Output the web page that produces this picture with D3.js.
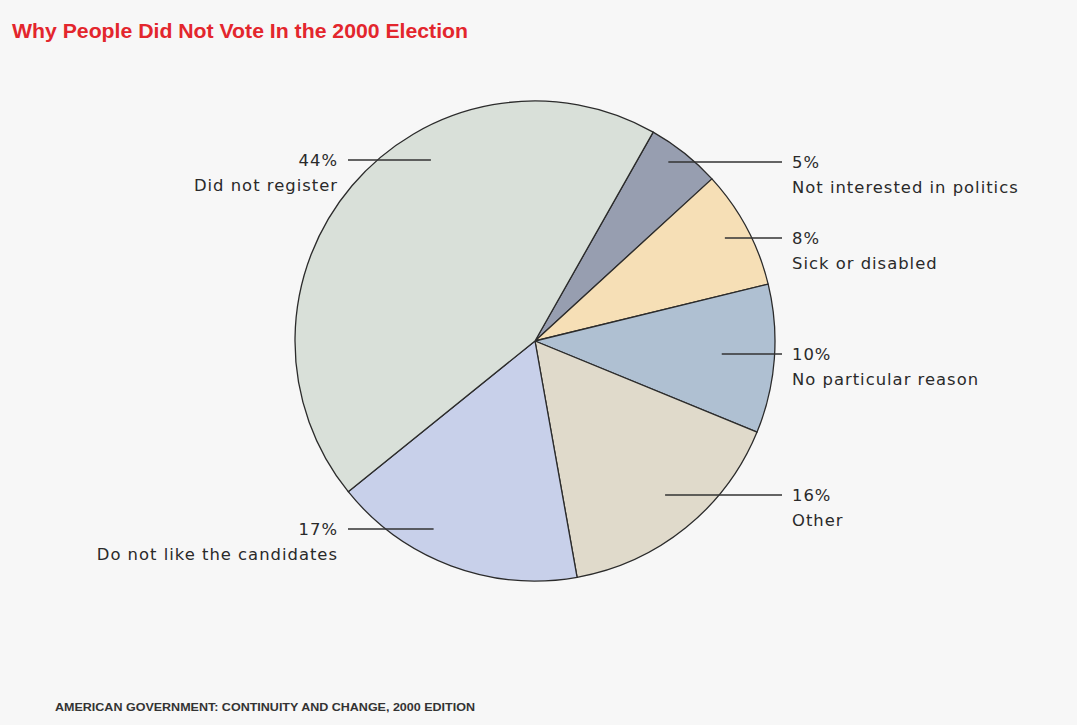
<!DOCTYPE html>
<html>
<head>
  <style>
    body { margin: 0; background: #f7f7f7; }
    svg { display: block; }
  </style>
</head>
<body>
  <script src="https://d3js.org/d3.v7.min.js"></script>
  <svg id="chart"></svg>
  <script>
    // data, clockwise from the top right
    var reasons = ["Not interested in politics", "Sick or disabled", "No particular reason",
      "Other", "Do not like the candidates", "Did not register"];
    var shares = [5, 8, 10, 16, 17, 44];
    var colors = ["#979eb0", "#f6dfb6", "#afc0d2", "#e0dacb", "#c8d0ea", "#d9e0d9"];

    // label placement: side, y of leader line, radius where the leader starts
    var labelLayout = [
      { side: "right", y: 162, r: 0.93 },
      { side: "right", y: 238, r: 0.90 },
      { side: "right", y: 354, r: 0.78 },
      { side: "right", y: 495, r: 0.84 },
      { side: "left", y: 529, r: 0.89 },
      { side: "left", y: 160, r: 0.87 }
    ];

    var width = 1077, height = 725;
    var cx = 535, cy = 341, R = 240;
    var startAngle = 29.5 * Math.PI / 180;

    var svg = d3.select("#chart").attr("width", width).attr("height", height);

    svg.append("text")
      .attr("x", 12).attr("y", 38)
      .attr("fill", "#e3262d")
      .style("font-family", "'Liberation Sans', Arial, sans-serif")
      .style("font-weight", "900")
      .style("font-size", "20px")
      .attr("textLength", 456)
      .attr("lengthAdjust", "spacingAndGlyphs")
      .text("Why People Did Not Vote In the 2000 Election");

    var pie = d3.pie().sort(null).value(function(d) { return d; })
      .startAngle(startAngle).endAngle(startAngle + 2 * Math.PI);
    var arc = d3.arc().innerRadius(0).outerRadius(R);

    var g = svg.append("g").attr("transform", "translate(" + cx + "," + cy + ")");
    var arcs = pie(shares);

    g.selectAll("path")
      .data(arcs)
      .enter()
      .append("path")
      .attr("d", arc)
      .attr("fill", function(d, i) { return colors[i]; })
      .attr("stroke", "#2b2b2b")
      .attr("stroke-width", 1.3)
      .attr("stroke-linejoin", "round");

    // leader lines + labels
    var rightX = 782, leftX = 348;
    arcs.forEach(function(d, i) {
      var lay = labelLayout[i];
      var dy = lay.y - cy;
      var rr = lay.r * R;
      var dx = Math.sqrt(Math.max(rr * rr - dy * dy, 0));
      var x0 = lay.side === "right" ? cx + dx : cx - dx;
      var x1 = lay.side === "right" ? rightX : leftX;

      svg.append("line")
        .attr("x1", x0).attr("y1", lay.y)
        .attr("x2", x1).attr("y2", lay.y)
        .attr("stroke", "#333")
        .attr("stroke-width", 1.3);

      var tx = lay.side === "right" ? x1 + 10 : x1 - 10;
      var anchor = lay.side === "right" ? "start" : "end";
      var t = svg.append("text")
        .attr("x", tx).attr("y", lay.y + 6)
        .attr("text-anchor", anchor)
        .attr("fill", "#2a2a2a")
        .style("font-family", "'DejaVu Sans', Verdana, sans-serif")
        .style("font-size", "16.4px")
        .style("letter-spacing", "1px");
      t.append("tspan").attr("x", tx).text(shares[i] + "%");
      t.append("tspan").attr("x", tx).attr("dy", 25).text(reasons[i]);
    });

    svg.append("text")
      .attr("x", 55).attr("y", 711)
      .attr("fill", "#333")
      .style("font-family", "'Liberation Sans', Arial, sans-serif")
      .style("font-weight", "bold")
      .style("font-size", "11px")
      .attr("textLength", 420)
      .attr("lengthAdjust", "spacingAndGlyphs")
      .text("AMERICAN GOVERNMENT: CONTINUITY AND CHANGE, 2000 EDITION");
  </script>
</body>
</html>
